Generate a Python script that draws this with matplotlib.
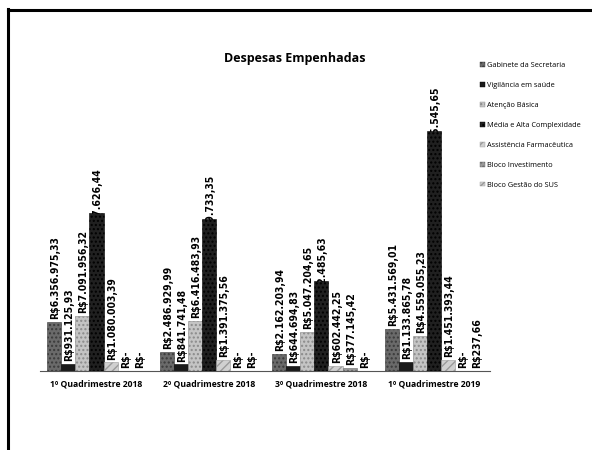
import numpy as np
import matplotlib
matplotlib.use("Agg")
import matplotlib.pyplot as plt
from matplotlib.patches import Patch
from matplotlib.lines import Line2D

# data
quadrimestres = ["1º Quadrimestre 2018", "2º Quadrimestre 2018",
                 "3º Quadrimestre 2018", "1º Quadrimestre 2019"]
series = ["Gabinete da Secretaria", "Vigilância em saúde", "Atenção Básica",
          "Média e Alta Complexidade", "Assistência Farmacêutica",
          "Bloco Investimento", "Bloco Gestão do SUS"]
gabinete = [6356975.33, 2486929.99, 2162203.94, 5431569.01]
vigilancia = [931125.93, 841741.48, 644694.83, 1133865.78]
atencao = [7091956.32, 6416483.93, 5047204.65, 4559055.23]
media_alta = [20457626.44, 19619733.35, 11592485.63, 31045545.65]
farmaceutica = [1080003.39, 1391375.56, 602442.25, 1451393.44]
investimento = [0, 0, 377145.42, 0]
gestao_sus = [0, 0, 0, 237.66]
valores = [gabinete, vigilancia, atencao, media_alta, farmaceutica, investimento, gestao_sus]

# estilos (tons de cinza com textura, como na impressao)
cores = ["#6a6a6a", "#1a1a1a", "#c4c4c4", "#202020", "#d0d0d0", "#9a9a9a", "#cfcfcf"]
bordas = ["#3a3a3a", "#000000", "#8a8a8a", "#000000", "#9a9a9a", "#6a6a6a", "#999999"]
hatches = ["....", "", "....", "....", "////", "....", "////"]

texto = ["Open Sans", "DejaVu Sans"]


def rotulo(v):
    if v == 0:
        return "R$-"
    s = f"{v:,.2f}"
    s = s.replace(",", "X").replace(".", ",").replace("X", ".")
    return "R$" + s


fig = plt.figure(figsize=(5.92, 4.5), dpi=100)
ax = fig.add_axes([0.068, 0.176, 0.76, 0.635])

x = np.arange(len(quadrimestres))
w = 0.125
for i, vals in enumerate(valores):
    pos = x + (i - 3) * w
    ax.bar(pos, vals, w, color=cores[i], edgecolor=bordas[i], hatch=hatches[i],
           linewidth=0.4, zorder=2)
    for xp, v in zip(pos, vals):
        if i == 3:
            ax.text(xp + 0.01, v, rotulo(v), rotation=90, ha="center", va="center",
                    fontsize=7.5, fontweight="bold", fontstretch="condensed",
                    family="DejaVu Sans", zorder=1)
        else:
            ax.annotate(rotulo(v), (xp + 0.01, v), xytext=(0, 2), textcoords="offset points",
                        rotation=90, ha="center", va="bottom", fontsize=7.5,
                        fontweight="bold", fontstretch="condensed",
                        family="DejaVu Sans", zorder=3)

ax.set_xlim(-0.5, 3.5)
ax.set_ylim(0, 37000000)
for s in ["top", "right", "left"]:
    ax.spines[s].set_visible(False)
ax.spines["bottom"].set_linestyle((0, (1, 1)))
ax.spines["bottom"].set_color("#555555")
ax.spines["bottom"].set_linewidth(0.8)
ax.set_yticks([])
ax.set_xticks(x)
ax.set_xticklabels(quadrimestres, fontsize=6.2, fontweight="bold", family=texto)
ax.tick_params(axis="x", length=0, pad=6)

fig.text(0.498, 0.871, "Despesas Empenhadas", ha="center", va="center",
         fontsize=9, fontweight="bold", family=texto)

handles = [Patch(facecolor=cores[i], edgecolor=bordas[i], hatch=hatches[i], linewidth=0.3)
           for i in range(len(series))]
fig.legend(handles, series, loc="upper left", bbox_to_anchor=(0.8, 0.876),
           frameon=False, prop={"family": texto, "size": 5.3},
           handlelength=0.6, handleheight=0.6, handletextpad=0.3, labelspacing=1.75)

# moldura do grafico (so esquerda e topo aparecem no escaneado)
fig.add_artist(Line2D([0.0135, 0.0135], [0.0, 0.98], color="black", lw=2.2))
fig.add_artist(Line2D([0.0135, 1.0], [0.978, 0.978], color="black", lw=2.2))

fig.savefig("out.png", dpi=100)
